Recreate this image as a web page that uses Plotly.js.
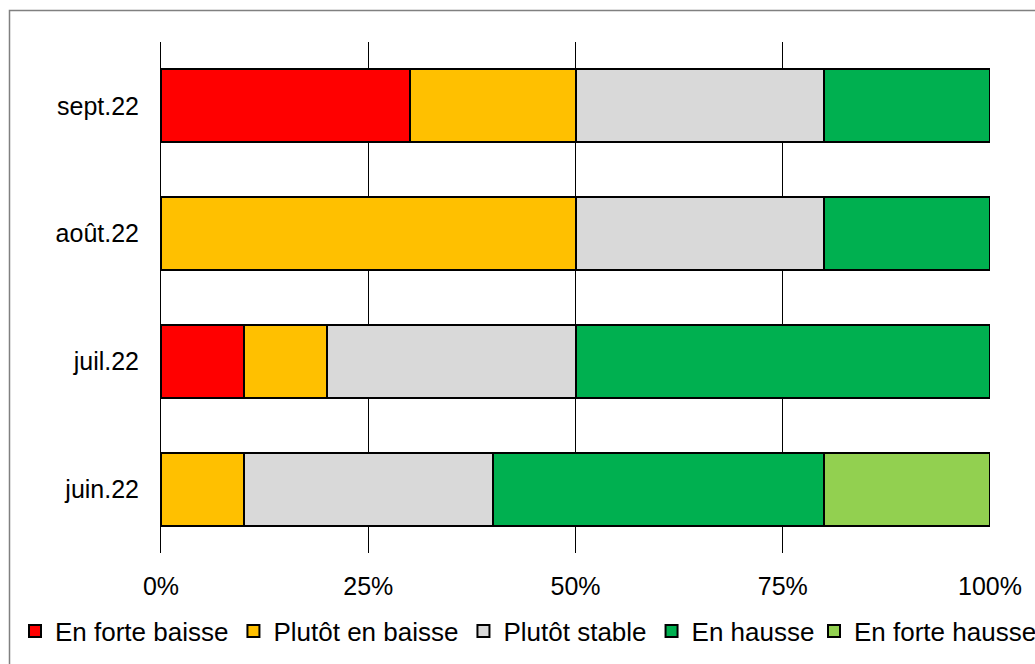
<!DOCTYPE html>
<html>
<head>
<meta charset="utf-8">
<script src="https://cdn.plot.ly/plotly-3.0.1.min.js"></script>
<style>html,body{margin:0;padding:0;background:#fff;}#chart{width:1035px;height:664px;}</style>
</head>
<body>
<div id="chart"></div>
<script>
const categories = ["juin.22", "juil.22", "août.22", "sept.22"];
const seriesNames = ["En forte baisse", "Plutôt en baisse", "Plutôt stable", "En hausse", "En forte hausse"];
const forteBaisse = [0, 10, 0, 30];
const plutotBaisse = [10, 10, 50, 20];
const plutotStable = [30, 30, 30, 30];
const enHausse = [40, 50, 20, 20];
const forteHausse = [20, 0, 0, 0];
const tickValues = [0, 25, 50, 75, 100];
const tickLabels = ["0%", "25%", "50%", "75%", "100%"];
const colors = ["#FF0000", "#FFC000", "#D9D9D9", "#00B050", "#92D050"];

const seriesValues = [forteBaisse, plutotBaisse, plutotStable, enHausse, forteHausse];
const traces = seriesValues.map((vals, i) => ({
  type: "bar",
  orientation: "h",
  name: seriesNames[i],
  y: categories,
  x: vals,
  marker: {color: colors[i], line: {color: "#000", width: 2}},
  legend: i === seriesValues.length - 1 ? "legend2" : "legend",
  hoverinfo: "x+y+name"
}));

const L = 161, R = 990, T = 42, B = 553, W = 1035, H = 664;
const pw = R - L, ph = B - T;
const px = p => (p - L) / pw;
const py = p => (B - p) / ph;

const legendCommon = {
  orientation: "h",
  xanchor: "left",
  y: py(631), yanchor: "middle",
  font: {size: 26, color: "#000"},
  traceorder: "normal",
  itemclick: false,
  bgcolor: "rgba(0,0,0,0)"
};

const layout = {
  width: W, height: H,
  margin: {l: L, r: W - R, t: T, b: H - B, pad: 0, autoexpand: false},
  paper_bgcolor: "#fff",
  plot_bgcolor: "#fff",
  barmode: "stack",
  bargap: 0.43,
  font: {family: "Liberation Sans, Arial, sans-serif", size: 25, color: "#000"},
  showlegend: true,
  legend: Object.assign({}, legendCommon, {x: px(15)}),
  legend2: Object.assign({}, legendCommon, {x: px(814)}),
  xaxis: {
    range: [0, 100],
    tickvals: tickValues,
    ticktext: tickLabels,
    showgrid: true,
    gridcolor: "#000",
    gridwidth: 1,
    zeroline: false,
    showline: false,
    ticks: "",
    ticklabelstandoff: 16,
    fixedrange: true
  },
  yaxis: {
    categoryorder: "array",
    categoryarray: categories,
    showgrid: false,
    zeroline: false,
    showline: true,
    linecolor: "#000",
    linewidth: 1,
    ticks: "",
    ticklabelstandoff: 16,
    fixedrange: true
  },
  shapes: [{
    type: "rect", xref: "paper", yref: "paper",
    x0: px(9.5), x1: px(1045), y0: py(10.5), y1: py(680),
    line: {color: "#808080", width: 1.5},
    fillcolor: "rgba(0,0,0,0)",
    layer: "below"
  }]
};

Plotly.newPlot("chart", traces, layout, {displayModeBar: false, staticPlot: true});
</script>
</body>
</html>
